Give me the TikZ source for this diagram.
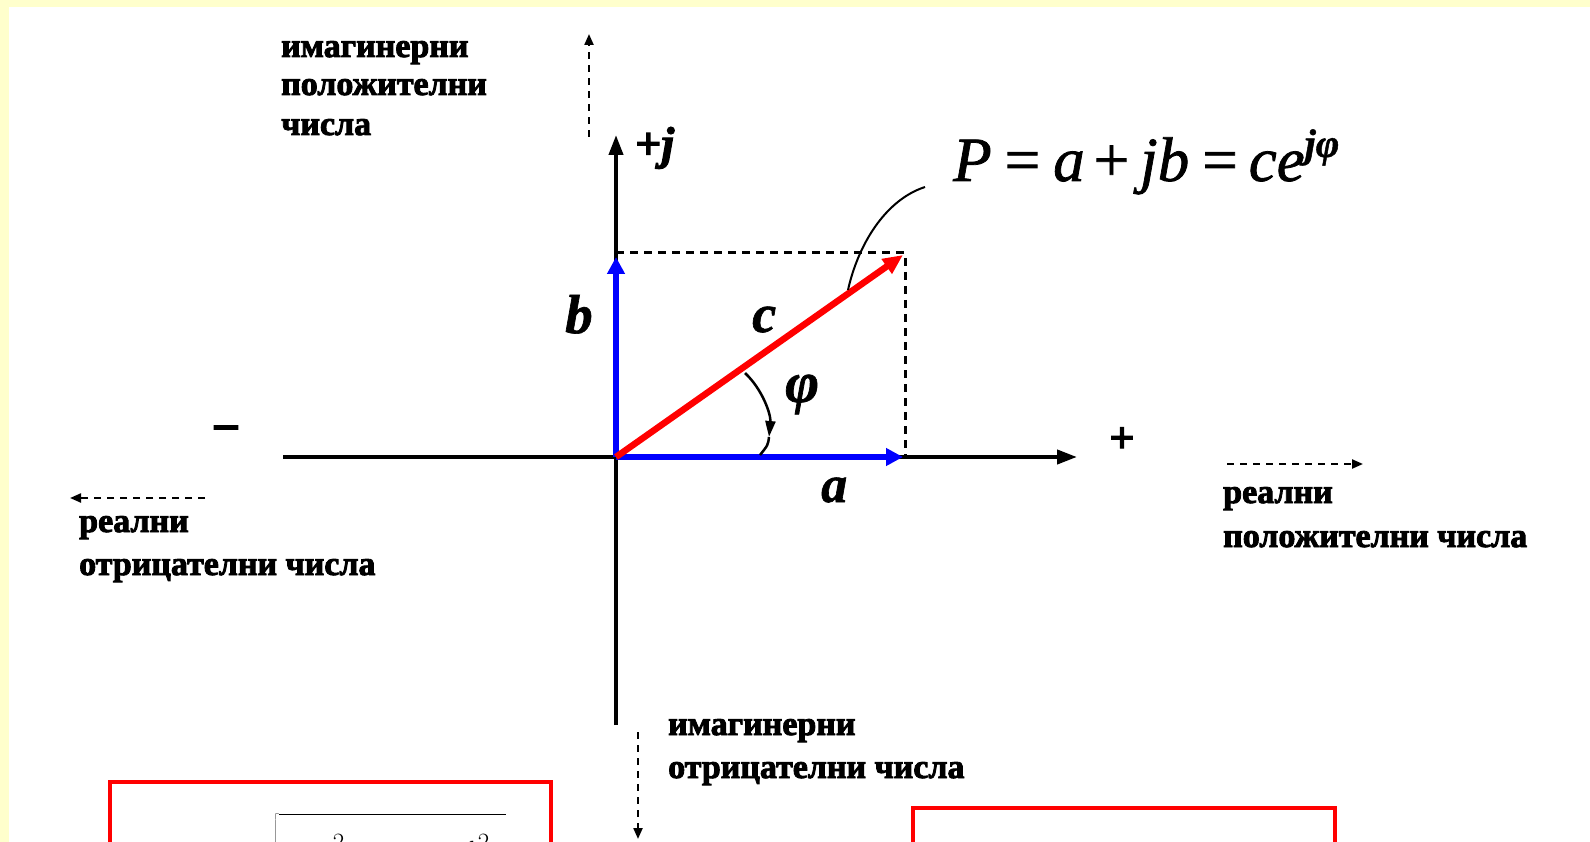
\documentclass[tikz,border=0pt]{standalone}
\usepackage{fontspec}
\setmainfont{Liberation Serif}
\newfontfamily\heavy{Liberation Serif}[FakeBold=2.6]
\newfontfamily\semiheavy{Liberation Serif}[FakeBold=1.2]
\usetikzlibrary{arrows.meta}
\definecolor{paleyellow}{HTML}{FFFFCC}
\definecolor{vecblue}{HTML}{0000FF}
\definecolor{vecred}{HTML}{FF0000}
\tikzset{
  cyr/.style={font=\heavy\bfseries\fontsize{34}{41}\selectfont, inner sep=0pt, anchor=base west},
  lbl/.style={font=\semiheavy\bfseries\itshape\fontsize{#1}{#1}\selectfont, inner sep=0pt, anchor=base west},
  axisline/.style={line width=4pt, -{Triangle[length=20pt,width=14pt]}},
  hint/.style={line width=2.2pt, dash pattern=on 7pt off 6pt, -{Triangle[length=11pt,width=9pt]}},
  bluevec/.style={vecblue, line width=6pt, -{Triangle[length=17pt,width=17pt]}},
  redvec/.style={vecred, line width=6.5pt, -{Triangle[length=20pt,width=17pt]}},
  proj/.style={line width=3pt, dash pattern=on 8pt off 6pt},
  thinline/.style={line width=2pt},
  anglearrow/.style={line width=2.5pt},
  redbox/.style={vecred, line width=3.5pt},
}
\begin{document}
\begin{tikzpicture}[x=1pt,y=-1pt]
\useasboundingbox (0,0) rectangle (1590,842);
\fill[paleyellow] (0,0) rectangle (1590,842);
\fill[white] (9,7) rectangle (1590,842);

% coordinates
\coordinate (O) at (616,457);
\coordinate (Xl) at (283,457);
\coordinate (Xr) at (1077,457);
\coordinate (Yb) at (616,725);
\coordinate (Yt) at (616,135);
\coordinate (Bt) at (616,257);
\coordinate (At) at (903,457);
\coordinate (Ct) at (903,255);
\coordinate (Rtl) at (616,253);
\coordinate (Rtr) at (905,253);
\coordinate (Rbr) at (905,457);

% axes
\draw[axisline] (Xl) -- (Xr);
\draw[axisline] (Yb) -- (Yt);

% projections
\draw[proj] (Rtl) -- (Rtr) -- (Rbr);

% vectors
\draw[bluevec] (O) -- (Bt);
\draw[bluevec] (O) -- (At);
\draw[redvec] (O) -- (Ct);

% angle arrow
\coordinate (ang1) at (745,373);
\coordinate (ang2) at (769,437);
\coordinate (ang3) at (760,455);
\draw[anglearrow, -{Triangle[length=16pt,width=10pt]}] (ang1) .. controls (763,390) and (771,415) .. (ang2);
\draw[anglearrow] (ang2) .. controls (768,445) .. (ang3);

% labels
\node[lbl=55] (lb) at (565,333) {b};
\node[lbl=54] (lc) at (752,332) {c};
\node[lbl=58] (lphi) at (785,402) {φ};
\node[lbl=52] (la) at (821,502) {a};
\node[font=\heavy\bfseries\fontsize{46}{46}\selectfont, inner sep=0pt, anchor=base west] (lj) at (635,159) {+\itshape j};
\node[font=\heavy\bfseries\fontsize{50}{50}\selectfont, inner sep=0pt] (lminus) at (226,435) {−};
\node[font=\heavy\bfseries\fontsize{44}{44}\selectfont, inner sep=0pt] (lplus) at (1122,440) {+};

% formula
\node[font=\semiheavy\fontsize{63}{63}\selectfont, inner sep=0pt, anchor=base west] (P) at (953,181)
  {\itshape P\hspace{13pt}{\upshape =}\hspace{13pt}a\hspace{9pt}{\upshape +}\hspace{11pt}jb\hspace{13pt}{\upshape =}\hspace{11pt}ce\raisebox{24pt}{\fontsize{40}{40}\selectfont\bfseries jφ}};
\coordinate (ptr) at (848,290);
\draw[thinline] (925,187) .. controls (885,200) and (858,245) .. (ptr);

% cyrillic labels
\node[cyr] (tl1) at (281,57) {имагинерни};
\node[cyr] (tl2) at (281,95) {положителни};
\node[cyr] (tl3) at (281,135) {числа};
\node[cyr] (ll1) at (79,532) {реални};
\node[cyr] (ll2) at (79,575) {отрицателни числа};
\node[cyr] (rl1) at (1223,503) {реални};
\node[cyr] (rl2) at (1223,547) {положителни числа};
\node[cyr] (bl1) at (668,735) {имагинерни};
\node[cyr] (bl2) at (668,778) {отрицателни числа};

% hint arrows
\coordinate (u1) at (589,137); \coordinate (u2) at (589,34);
\coordinate (l1) at (205,498); \coordinate (l2) at (70,498);
\coordinate (r1) at (1227,464); \coordinate (r2) at (1363,464);
\coordinate (d1) at (638,732); \coordinate (d2) at (638,839);
\draw[hint] (u1) -- (u2);
\draw[hint] (l1) -- (l2);
\draw[hint] (r1) -- (r2);
\draw[hint] (d1) -- (d2);

% boxes
\draw[redbox] (110,782) rectangle (551,900);
\draw[redbox] (913,808) rectangle (1335,900);
\node[font=\fontsize{48}{48}\selectfont, inner sep=0pt, anchor=base west] (mod) at (226,858)
  {$c=\sqrt{\rule{0pt}{40pt}\hspace{41pt}a^{2}\hspace{47pt}+\hspace{47pt}b^{2}\hspace{16pt}}$};
\end{tikzpicture}
\end{document}
